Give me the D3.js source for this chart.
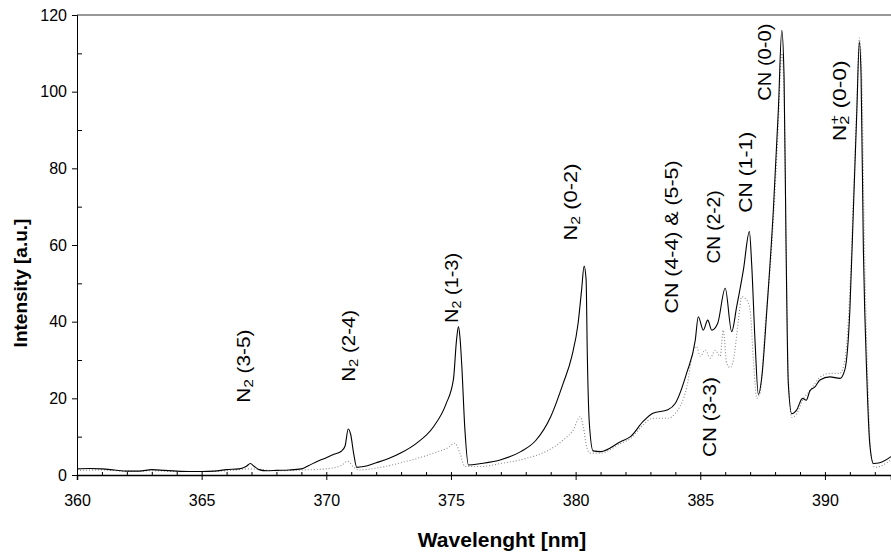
<!DOCTYPE html>
<html>
<head>
<meta charset="utf-8">
<script src="https://cdn.jsdelivr.net/npm/d3@7"></script>
<style>
  html, body { margin: 0; padding: 0; background: #fff; }
  svg { display: block; }
  text { font-family: "Liberation Sans", Arial, Helvetica, sans-serif; fill: #000; }
</style>
</head>
<body>
<svg id="chart" width="891" height="556"></svg>
<script>
// ---- data ----
const xTicks = [360, 365, 370, 375, 380, 385, 390];
const yTicks = [0, 20, 40, 60, 80, 100, 120];

// solid spectrum
const solidWavelength = [360.0,360.5,361.0,361.5,362.0,362.5,363.0,363.5,364.0,364.5,365.0,365.5,366.0,366.5,366.8,366.95,367.1,367.3,367.6,368.0,368.5,369.0,369.3,369.7,370.0,370.3,370.6,370.75,370.88,370.98,371.1,371.22,371.5,372.0,372.5,373.0,373.6,374.3,374.8,375.1,375.22,375.3,375.36,375.43,375.56,375.7,376.2,377.0,377.8,378.4,379.0,379.5,379.85,380.1,380.24,380.34,380.42,380.47,380.55,380.7,381.0,381.8,382.2,382.7,383.1,383.7,384.0,384.45,384.8,384.92,385.12,385.3,385.46,385.7,386.0,386.26,386.46,386.73,386.97,387.06,387.2,387.33,387.47,387.67,387.93,388.13,388.27,388.36,388.44,388.53,388.67,388.87,389.1,389.25,389.4,389.6,389.8,390.2,390.6,390.8,391.0,391.14,391.28,391.38,391.45,391.54,391.68,391.8,391.95,392.2,392.65];
const solidIntensity  = [1.6,1.7,1.6,1.3,1.0,1.0,1.4,1.2,1.0,0.9,0.9,1.0,1.4,1.6,2.3,3.0,2.3,1.4,1.1,1.2,1.3,1.6,2.5,3.7,4.5,5.4,6.2,7.5,12.0,10.5,5.5,2.0,2.2,3.2,4.3,5.8,8.2,12.6,18.5,25.0,35.0,38.7,36.0,29.0,11.7,2.6,3.0,4.0,6.1,9.0,15.2,23.9,31.0,39.6,48.3,54.5,51.0,31.0,13.5,6.3,6.1,8.7,10.0,13.9,16.1,17.0,18.7,26.5,35.2,41.3,37.8,40.4,37.8,39.6,48.7,37.4,43.9,53.5,63.5,55.2,34.4,21.0,25.7,43.0,69.0,95.0,116.0,104.0,60.0,24.0,16.0,17.0,20.0,19.5,22.0,23.0,24.8,25.6,25.2,27.5,43.0,69.0,95.0,113.0,104.0,60.0,25.6,8.0,3.0,3.2,4.8];

// dotted spectrum
const dottedWavelength = [360.0,361.0,362.0,363.0,364.0,365.0,366.0,367.0,368.0,369.0,370.0,370.6,370.85,371.1,371.3,372.0,373.0,374.3,374.9,375.16,375.36,375.56,376.2,377.0,378.0,378.8,379.5,379.9,380.18,380.31,380.44,380.58,381.0,381.8,382.2,382.7,383.1,383.7,384.0,384.46,384.73,384.85,385.0,385.2,385.4,385.6,385.8,385.92,386.06,386.2,386.33,386.53,386.66,386.86,387.0,387.13,387.27,387.4,387.6,387.87,388.1,388.27,388.36,388.44,388.53,388.67,388.87,389.1,389.4,389.8,390.2,390.6,390.8,391.0,391.14,391.28,391.38,391.47,391.58,391.72,391.85,392.0,392.3,392.65];
const dottedIntensity  = [1.2,1.3,1.0,1.1,0.9,0.9,1.1,1.6,1.1,1.3,1.6,2.5,3.6,2.0,1.3,1.8,3.2,5.7,7.2,8.3,5.7,2.2,2.2,3.0,4.3,6.1,9.1,11.7,15.2,12.6,7.4,5.7,5.7,8.2,9.5,13.0,14.8,14.8,16.1,23.0,32.6,33.5,31.0,32.6,30.5,32.5,31.0,37.8,29.1,28.0,30.0,40.4,46.5,45.7,43.0,30.0,20.0,21.5,38.7,60.0,87.0,110.0,100.0,62.0,26.0,15.0,16.0,19.5,22.0,25.5,26.5,26.5,30.0,48.0,72.0,97.0,114.0,106.0,62.0,24.0,5.0,2.0,2.5,4.0];

// band annotations: label centre in data units
const labelMain   = ["N", "N", "N", "N", "CN (4-4) & (5-5)", "CN (2-2)", "CN (1-1)", "CN (0-0)", "N", "CN (3-3)"];
const labelSub    = ["2", "2", "2", "2", "", "", "", "", "2", ""];
const labelSup    = ["", "", "", "", "", "", "", "", "+", ""];
const labelRest   = [" (3-5)", " (2-4)", " (1-3)", " (0-2)", "", "", "", "", " (0-0)", ""];
const labelWl     = [366.70, 370.91, 375.04, 379.82, 383.87, 385.55, 386.84, 387.60, 390.61, 385.39];
const labelInt    = [28.4, 33.7, 48.8, 71.2, 62.1, 64.7, 79.0, 107.7, 97.6, 15.1];

// ---- drawing ----
const svg = d3.select("#chart");
const mLeft = 77, mRight = 891, mTop = 15, mBottom = 475;

const x = d3.scaleLinear().domain([360, 392.65]).range([mLeft, mRight]);
const y = d3.scaleLinear().domain([0, 120]).range([mBottom, mTop]);

// top frame line
svg.append("line")
  .attr("x1", mLeft).attr("x2", mRight).attr("y1", mTop).attr("y2", mTop)
  .attr("stroke", "#333").attr("stroke-width", 1);

// series
const solid = solidWavelength.map((w, i) => [w, solidIntensity[i]]);
const dotted = dottedWavelength.map((w, i) => [w, dottedIntensity[i]]);
const line = d3.line().x(d => x(d[0])).y(d => y(d[1])).curve(d3.curveMonotoneX);

svg.append("path").datum(dotted)
  .attr("d", line).attr("fill", "none")
  .attr("stroke", "#8a8a8a").attr("stroke-width", 1.1)
  .attr("stroke-dasharray", "1,2");

svg.append("path").datum(solid)
  .attr("d", line).attr("fill", "none")
  .attr("stroke", "#000").attr("stroke-width", 1.1);

// y axis
const yAxis = svg.append("g").attr("transform", `translate(${mLeft},0)`)
  .call(d3.axisLeft(y).tickValues(yTicks).tickSize(5).tickPadding(5));
yAxis.selectAll("text").style("font-size", "16px");
const yMinor = svg.append("g").attr("transform", `translate(${mLeft},0)`)
  .call(d3.axisRight(y).tickValues(d3.range(10, 120, 20)).tickSize(5).tickFormat(""));
yMinor.select(".domain").remove();

// x axis
const xAxis = svg.append("g").attr("transform", `translate(0,${mBottom})`)
  .call(d3.axisBottom(x).tickValues(xTicks).tickSize(5).tickPadding(15));
xAxis.selectAll(".tick line").attr("y1", -3);
xAxis.selectAll("text").style("font-size", "16px");
xAxis.select(".domain").attr("stroke-width", 1.5);
const xMinorVals = d3.range(361, 393, 1).filter(v => v % 5 !== 0);
const xMinor = svg.append("g").attr("transform", `translate(0,${mBottom})`)
  .call(d3.axisTop(x).tickValues(xMinorVals).tickSize(3).tickFormat(""));
xMinor.select(".domain").remove();

// axis titles
svg.append("text")
  .attr("x", 502).attr("y", 547)
  .attr("text-anchor", "middle")
  .style("font-size", "21px").style("font-weight", "bold")
  .text("Wavelenght [nm]");

svg.append("text")
  .attr("transform", "translate(27,283) rotate(-90)")
  .attr("text-anchor", "middle")
  .style("font-size", "19px").style("font-weight", "bold")
  .text("Intensity [a.u.]");

// band labels (rotated)
const labelLen = [73, 72, 70, 77, 153, 73, 81, 77, 81, 80];
labelMain.forEach((m, i) => {
  const t = svg.append("text")
    .attr("transform", `translate(${x(labelWl[i])},${y(labelInt[i])}) rotate(-90)`)
    .attr("text-anchor", "middle")
    .attr("dy", "0.35em")
    .style("font-size", "18px");
  t.append("tspan").text(m);
  if (labelSub[i]) {
    t.append("tspan").attr("baseline-shift", "-25%").style("font-size", "13px").text(labelSub[i]);
  }
  if (labelSup[i]) {
    t.append("tspan").attr("dx", "-7").attr("baseline-shift", "55%").style("font-size", "13px").text(labelSup[i]);
  }
  if (labelRest[i]) t.append("tspan").text(labelRest[i]);
  t.attr("textLength", labelLen[i]).attr("lengthAdjust", "spacingAndGlyphs");
});
</script>
</body>
</html>
